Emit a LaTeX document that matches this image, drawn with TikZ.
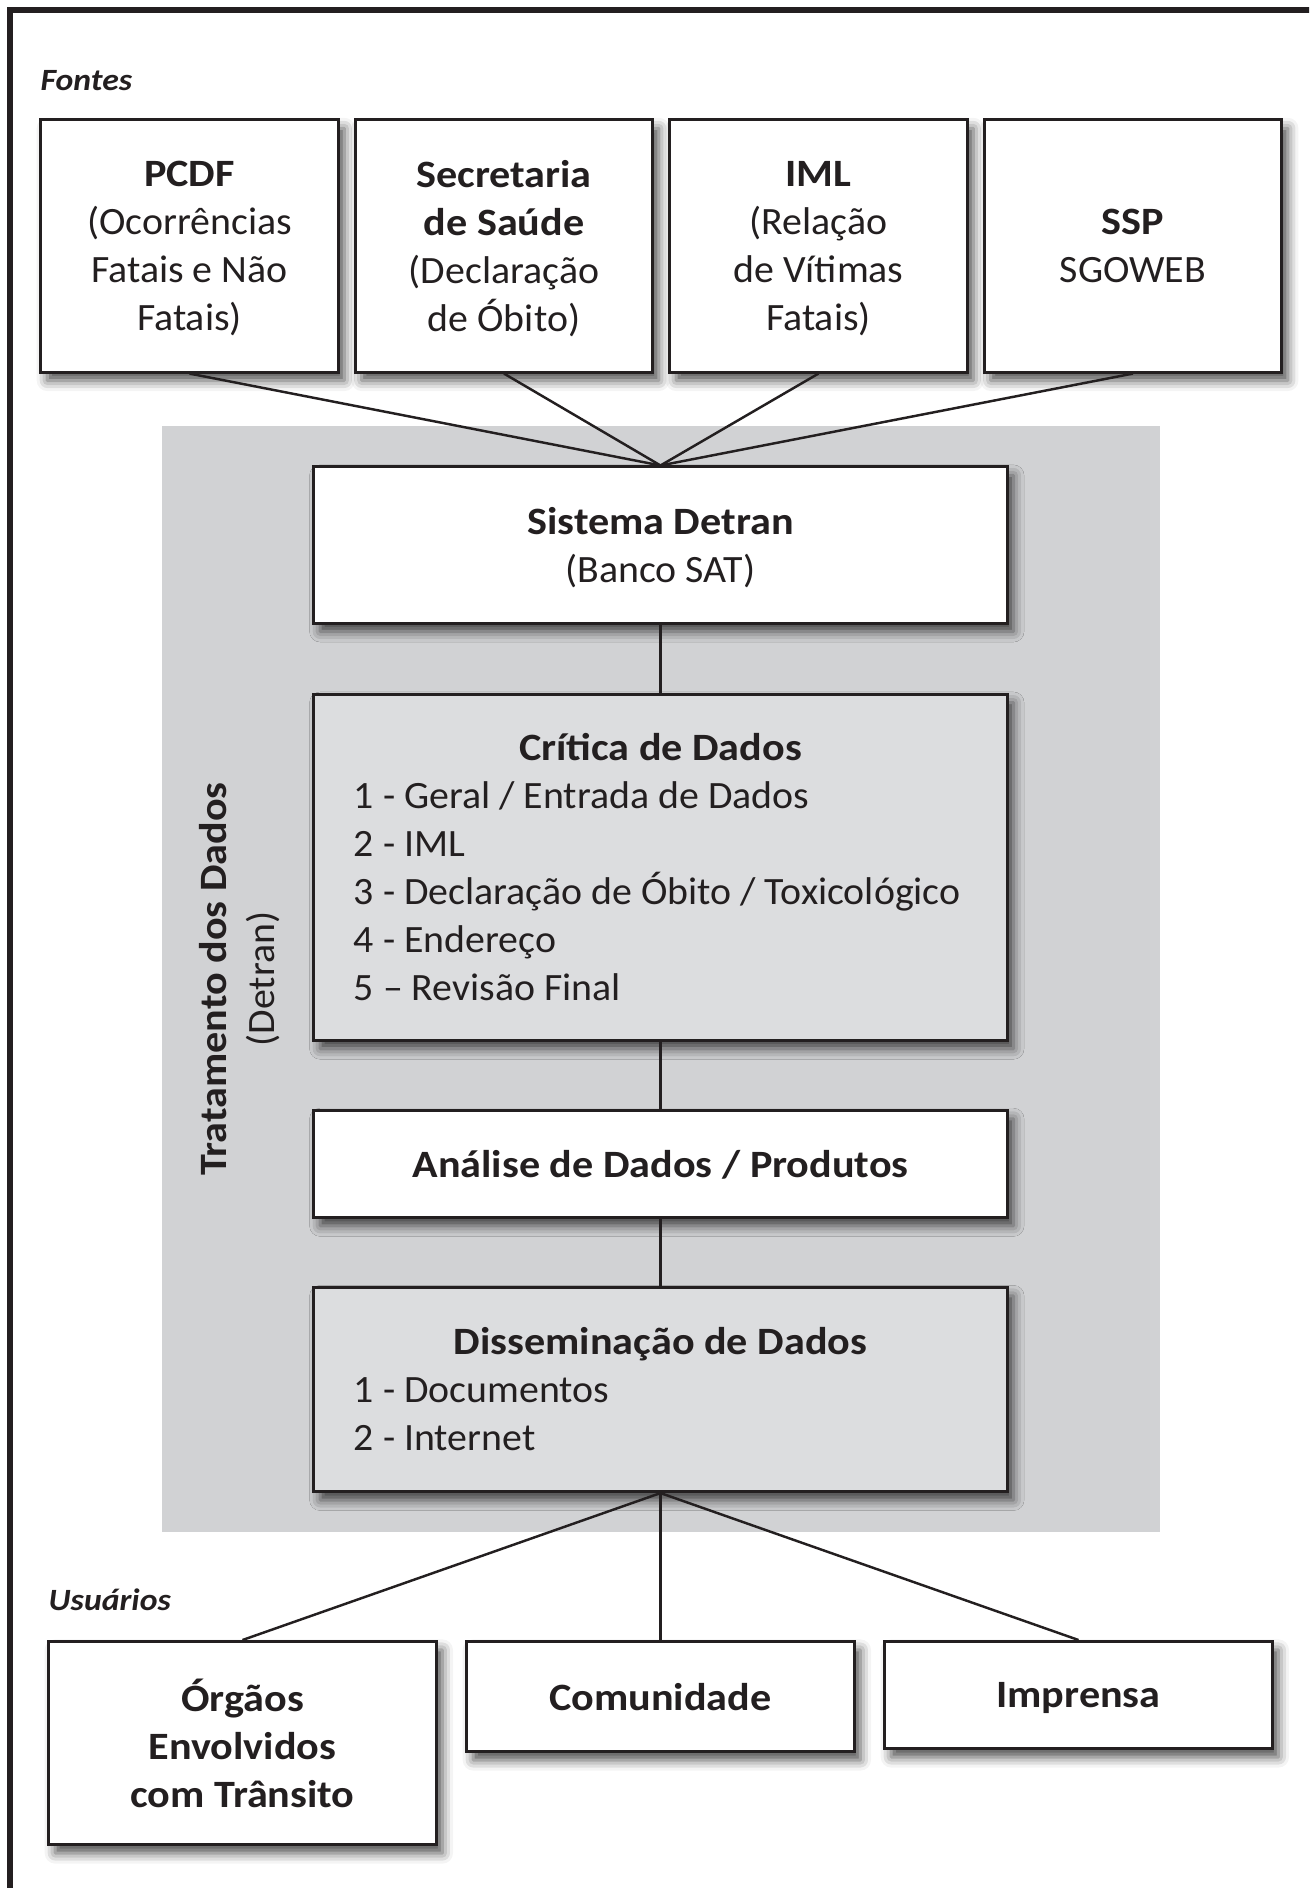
\documentclass[tikz,border=0pt]{standalone}
\usepackage{fontspec}
\setmainfont{Carlito}[FakeStretch=1.03, BoldFeatures={FakeStretch=1.09}, BoldItalicFeatures={FakeStretch=1.09}]
\usetikzlibrary{shapes,arrows,shadows.blur}
\definecolor{painel}{RGB}{209,210,212}
\definecolor{caixa}{RGB}{220,221,223}
\definecolor{tinta}{RGB}{35,31,32}
\tikzstyle{block} = [draw=tinta, line width=0.85pt, fill=white, rectangle, align=center,
    text=tinta, text depth=0pt, font=\fontsize{11}{13.66}\selectfont,
    blur shadow={shadow xshift=1.8pt, shadow yshift=-2.4pt, shadow blur radius=3pt, shadow opacity=70}]
\tikzstyle{fonte} = [block, minimum width=2.97cm, minimum height=2.52cm]
\tikzstyle{etapa} = [block, minimum width=6.93cm]
\tikzstyle{lista} = [etapa, fill=caixa, text width=6.13cm, inner xsep=0.4cm, align=left, text depth=,
    execute at begin node={\spaceskip=0pt\xspaceskip=0pt}]
\tikzstyle{usuario} = [block, minimum width=3.87cm, anchor=north, font=\fontsize{11}{13.66}\selectfont\bfseries]
\tikzstyle{titulo} = [font=\fontsize{8.8}{10}\selectfont\bfseries\itshape, text=tinta, anchor=west, inner xsep=0pt]
\tikzstyle{line} = [draw=tinta, line width=0.7pt]

\begin{document}
\begin{tikzpicture}[x=0.01cm, y=-0.01cm]
\useasboundingbox (0,0) rectangle (1309,1888);
\clip (0,0) rectangle (1309,1888);
\draw[draw=tinta, line width=1.45pt] (10,1950) |- (1400,10);

\node[titulo] (fontes) at (40,81) {Fontes};

\node[fonte, name=pcdf] at (189.5,246) {\textbf{PCDF}\\(Ocorrências\\Fatais e Não\\Fatais)};
\node[fonte, right of=pcdf, node distance=3.143cm] (saude) {\textbf{Secretaria}\\\textbf{de Saúde}\\(Declaração\\de Óbito)};
\node[fonte, right of=saude, node distance=3.143cm] (iml) {\textbf{IML}\\(Relação\\de Vítimas\\Fatais)};
\node[fonte, right of=iml, node distance=3.143cm] (ssp) {\textbf{SSP}\\SGOWEB};

\node[fill=painel, minimum width=9.98cm, minimum height=11.06cm, inner sep=0pt] (painel) at (661,979) {};
\node[rotate=90, align=center, text=tinta, font=\fontsize{11}{13.66}\selectfont] (tratamento) at (239.5,979) {\textbf{Tratamento dos Dados}\\(Detran)};

\node[etapa, minimum height=1.56cm] (sistema) at (660.5,545) {\textbf{Sistema Detran}\\(Banco SAT)};
\node[lista, minimum height=3.46cm, below of=sistema, node distance=3.22cm] (critica) {\makebox[\linewidth]{\textbf{Crítica de Dados}}\\1 - Geral / Entrada de Dados\\2 - IML\\\mbox{3 - Declaração de Óbito / Toxicológico}\\4 - Endereço\\5 – Revisão Final};
\node[etapa, minimum height=1.07cm, below of=critica, node distance=2.965cm] (analise) {\textbf{Análise de Dados / Produtos}};
\node[lista, minimum height=2.04cm, below of=analise, node distance=2.255cm] (dissem) {\makebox[\linewidth]{\textbf{Disseminação de Dados}}\\1 - Documentos\\2 - Internet};

\node[titulo] (usuarios) at (48,1600) {Usuários};

\node[usuario, minimum height=2.03cm] (orgaos) at (242.5,1640) {Órgãos\\Envolvidos\\com Trânsito};
\node[usuario, minimum height=1.10cm] (comunidade) at (660.5,1640) {Comunidade};
\node[usuario, minimum height=1.07cm] (imprensa) at (1078.5,1640) {Imprensa};

\foreach \n in {pcdf,saude,iml,ssp}
  \draw[line] (\n.south) -- (sistema.north);
\draw[line] (sistema) -- (critica);
\draw[line] (critica) -- (analise);
\draw[line] (analise) -- (dissem);
\foreach \n in {orgaos,comunidade,imprensa}
  \draw[line] (dissem.south) -- (\n.north);

\end{tikzpicture}
\end{document}
